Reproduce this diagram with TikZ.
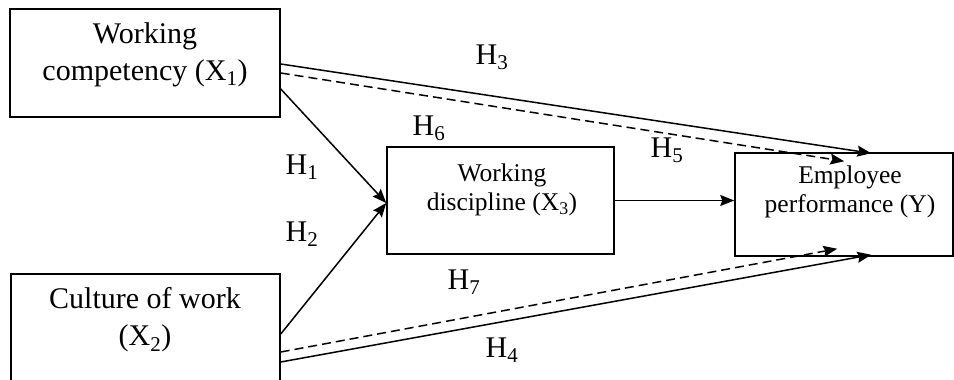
\documentclass[tikz,border=0pt]{standalone}
\usepackage{fontspec}
\setmainfont{Liberation Serif}
\usetikzlibrary{arrows.meta,calc}
\tikzset{
  box/.style={draw, line width=1.5pt, inner sep=0pt},
  bigtxt/.style={align=center, font=\fontsize{30}{37}\selectfont, inner sep=0pt},
  smalltxt/.style={align=center, font=\fontsize{25.5}{29}\selectfont, inner sep=0pt},
  hlab/.style={font=\fontsize{30}{36}\selectfont, inner sep=0pt},
  conn/.style={line width=1.5pt, -{Stealth[length=14pt,width=11pt,inset=2pt]}},
  dashconn/.style={conn, dash pattern=on 9pt off 5pt},
}
\begin{document}
\begin{tikzpicture}[x=1pt,y=-1pt]
\useasboundingbox (0,0) rectangle (954,380);
% boxes
\node[box, minimum width=270pt, minimum height=108pt] (x1) at (145,63) {};
\node[box, minimum width=269pt, minimum height=108pt] (x2) at (145.5,328) {};
\node[box, minimum width=227pt, minimum height=107pt] (x3) at (500.5,200.5) {};
\node[box, minimum width=218pt, minimum height=103pt] (y) at (844,204.5) {};
% box texts
\node[bigtxt] (x1t) at (145,55) {Working\\competency (X\textsubscript{1})};
\node[bigtxt] (x2t) at (145,320) {Culture of work\\(X\textsubscript{2})};
\node[smalltxt] (x3t) at (502,190) {Working\\discipline (X\textsubscript{3})};
\node[smalltxt] (yt) at (850,192) {Employee\\performance (Y)};
% connectors
\draw[conn] ([yshift=-26pt]x1.east) -- ([yshift=-2.5pt]x3.west);
\draw[conn] ([yshift=-6pt]x2.east) -- ([yshift=-2.5pt]x3.west);
\draw[conn] (x3.east) -- (x3.east -| y.west);
\draw[conn] ([yshift=-1pt]x1.east) -- ([xshift=137pt,yshift=-1pt]y.north west);
\draw[dashconn] ([yshift=-10pt]x1.east) -- ([xshift=110pt,yshift=-9pt]y.north west);
\draw[conn] ([yshift=-34pt]x2.east) -- ([xshift=137pt,yshift=2pt]y.south west);
\draw[dashconn] ([yshift=-24pt]x2.east) -- ([xshift=103pt,yshift=8pt]y.south west);
% labels
\node[hlab] (h3) at (492,57) {H\textsubscript{3}};
\node[hlab] (h6) at (429,128) {H\textsubscript{6}};
\node[hlab] (h1) at (302,167) {H\textsubscript{1}};
\node[hlab] (h2) at (302,234) {H\textsubscript{2}};
\node[hlab] (h5) at (667,150) {H\textsubscript{5}};
\node[hlab] (h7) at (464,282) {H\textsubscript{7}};
\node[hlab] (h4) at (502,350) {H\textsubscript{4}};
\end{tikzpicture}
\end{document}
